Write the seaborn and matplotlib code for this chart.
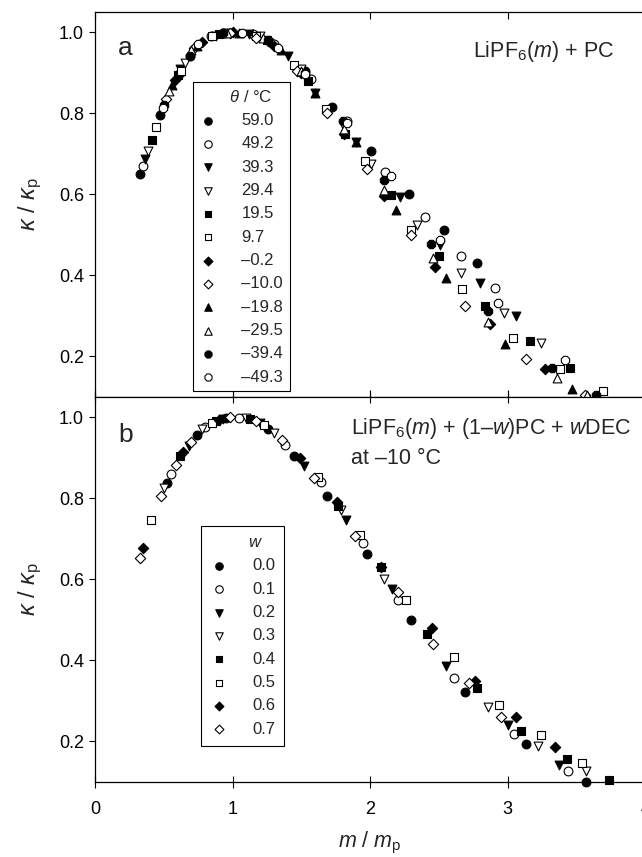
import matplotlib
matplotlib.use("Agg")
import matplotlib.pyplot as plt
import seaborn as sns
import pandas as pd

# ---- panel a: LiPF6 + PC at several temperatures (theta / degC) ----
temps_a = ["59.0", "49.2", "39.3", "29.4", "19.5", "9.7",
           "–0.2", "–10.0", "–19.8", "–29.5", "–39.4", "–49.3"]

x_590 = [0.327, 0.473, 0.69, 0.93, 1.27, 1.53, 1.72, 2.01, 2.28, 2.54, 2.775]
y_590 = [0.649, 0.795, 0.941, 0.998, 0.977, 0.905, 0.815, 0.707, 0.600, 0.513, 0.430]
x_492 = [0.348, 0.62, 0.84, 1.15, 1.30, 1.57, 1.83, 2.108, 2.40, 2.66, 2.91]
y_492 = [0.669, 0.900, 0.990, 0.996, 0.970, 0.885, 0.780, 0.655, 0.544, 0.449, 0.370]
x_393 = [0.366, 0.62, 0.88, 1.12, 1.40, 1.60, 1.90, 2.22, 2.51, 2.80, 3.06]
y_393 = [0.686, 0.910, 0.990, 0.995, 0.940, 0.850, 0.730, 0.593, 0.475, 0.381, 0.300]
x_294 = [0.387, 0.652, 0.95, 1.20, 1.50, 1.80, 2.01, 2.34, 2.66, 2.97, 3.24]
y_294 = [0.707, 0.923, 0.998, 0.990, 0.910, 0.770, 0.676, 0.524, 0.405, 0.307, 0.234]
x_195 = [0.417, 0.60, 0.90, 1.25, 1.55, 1.82, 2.15, 2.50, 2.836, 3.16, 3.45]
y_195 = [0.735, 0.895, 0.995, 0.980, 0.880, 0.750, 0.599, 0.449, 0.325, 0.238, 0.171]
x_97 = [0.443, 0.628, 0.85, 1.17, 1.45, 1.68, 1.96, 2.295, 2.67, 3.04, 3.38, 3.69]
y_97 = [0.765, 0.903, 0.990, 0.990, 0.920, 0.810, 0.682, 0.513, 0.366, 0.246, 0.170, 0.114]
x_m02 = [0.58, 0.78, 1.00, 1.30, 1.50, 1.81, 2.10, 2.47, 2.87, 3.27]
y_m02 = [0.883, 0.975, 1.000, 0.965, 0.900, 0.750, 0.597, 0.420, 0.280, 0.170]
x_m100 = [0.518, 0.72, 0.98, 1.17, 1.47, 1.69, 1.98, 2.295, 2.69, 3.135, 3.56]
y_m100 = [0.836, 0.960, 0.999, 0.985, 0.905, 0.800, 0.663, 0.500, 0.324, 0.193, 0.105]
x_m198 = [0.56, 0.74, 1.05, 1.35, 1.60, 1.90, 2.19, 2.55, 2.98, 3.47]
y_m198 = [0.870, 0.965, 0.998, 0.955, 0.850, 0.729, 0.562, 0.393, 0.231, 0.120]
x_m295 = [0.539, 0.70, 0.96, 1.22, 1.50, 1.81, 2.10, 2.46, 2.86, 3.36, 3.58]
y_m295 = [0.855, 0.955, 0.998, 0.985, 0.905, 0.760, 0.611, 0.442, 0.285, 0.148, 0.105]
x_m394 = [0.50, 0.687, 0.93, 1.26, 1.53, 1.80, 2.10, 2.444, 2.86, 3.32, 3.64]
y_m394 = [0.820, 0.941, 0.997, 0.980, 0.900, 0.780, 0.636, 0.477, 0.312, 0.172, 0.106]
x_m493 = [0.494, 0.75, 1.07, 1.33, 1.527, 1.83, 2.15, 2.51, 2.93, 3.42]
y_m493 = [0.814, 0.970, 0.999, 0.960, 0.898, 0.775, 0.645, 0.487, 0.332, 0.190]

xs_a = [x_590, x_492, x_393, x_294, x_195, x_97, x_m02, x_m100, x_m198, x_m295, x_m394, x_m493]
ys_a = [y_590, y_492, y_393, y_294, y_195, y_97, y_m02, y_m100, y_m198, y_m295, y_m394, y_m493]

# ---- panel b: LiPF6 + (1-w)PC + wDEC at -10 degC ----
fracs_b = ["0.0", "0.1", "0.2", "0.3", "0.4", "0.5", "0.6", "0.7"]

x_w00 = [0.52, 0.738, 0.95, 1.26, 1.447, 1.69, 1.977, 2.30, 2.69, 3.135, 3.566]
y_w00 = [0.838, 0.957, 0.999, 0.970, 0.905, 0.805, 0.663, 0.500, 0.322, 0.193, 0.101]
x_w01 = [0.553, 0.80, 1.05, 1.38, 1.64, 1.95, 2.205, 2.61, 3.045, 3.44]
y_w01 = [0.861, 0.975, 0.998, 0.931, 0.840, 0.690, 0.548, 0.357, 0.219, 0.127]
x_w02 = [0.68, 0.93, 1.20, 1.52, 1.825, 2.158, 2.55, 3.00, 3.37]
y_w02 = [0.930, 0.995, 0.985, 0.880, 0.746, 0.577, 0.385, 0.240, 0.141]
x_w03 = [0.50, 0.78, 1.10, 1.30, 1.79, 2.10, 2.86, 3.22, 3.57]
y_w03 = [0.825, 0.970, 0.997, 0.960, 0.770, 0.602, 0.286, 0.190, 0.127]
x_w04 = [0.62, 0.88, 1.13, 1.77, 2.08, 2.41, 2.78, 3.10, 3.43, 3.74]
y_w04 = [0.905, 0.990, 0.995, 0.780, 0.630, 0.466, 0.333, 0.227, 0.157, 0.106]
x_w05 = [0.41, 0.85, 1.23, 1.62, 1.93, 2.26, 2.61, 2.94, 3.24, 3.54]
y_w05 = [0.746, 0.985, 0.980, 0.852, 0.710, 0.548, 0.408, 0.289, 0.215, 0.147]
x_w06 = [0.348, 0.64, 0.90, 1.49, 1.757, 2.08, 2.45, 2.76, 3.06, 3.343]
y_w06 = [0.677, 0.914, 0.993, 0.900, 0.790, 0.630, 0.481, 0.350, 0.260, 0.186]
x_w07 = [0.327, 0.479, 0.589, 0.70, 0.98, 1.17, 1.357, 1.595, 1.887, 2.20, 2.46, 2.72, 2.955]
y_w07 = [0.652, 0.805, 0.883, 0.939, 1.000, 0.990, 0.943, 0.849, 0.707, 0.570, 0.441, 0.345, 0.260]

xs_b = [x_w00, x_w01, x_w02, x_w03, x_w04, x_w05, x_w06, x_w07]
ys_b = [y_w00, y_w01, y_w02, y_w03, y_w04, y_w05, y_w06, y_w07]

# marker style per series: (marker, filled, size)
styles_a = [("o", True, 40), ("o", False, 40), ("v", True, 40), ("v", False, 40),
            ("s", True, 34), ("s", False, 34), ("D", True, 28), ("D", False, 28),
            ("^", True, 40), ("^", False, 40), ("8", True, 42), ("8", False, 42)]
styles_b = styles_a[:8]

sns.set_theme(style="ticks")
plt.rcParams["font.family"] = ["Liberation Sans", "DejaVu Sans"]
plt.rcParams["mathtext.fontset"] = "custom"
plt.rcParams["mathtext.rm"] = "Liberation Sans"
plt.rcParams["mathtext.it"] = "Liberation Sans:italic"
plt.rcParams["mathtext.bf"] = "Liberation Sans:bold"
plt.rcParams["axes.edgecolor"] = "black"
plt.rcParams["axes.linewidth"] = 0.9
plt.rcParams["xtick.color"] = "black"
plt.rcParams["ytick.color"] = "black"

fig = plt.figure(figsize=(6.42, 8.57), dpi=100)
ax_a = fig.add_axes([0.148, 0.5368, 0.857, 0.4493])
ax_b = fig.add_axes([0.148, 0.0875, 0.857, 0.4493])


def draw_panel(ax, xs, ys, labels, styles):
    for xv, yv, lab, (mk, filled, sz) in zip(xs, ys, labels, styles):
        df = pd.DataFrame({"x": xv, "y": yv})
        sns.scatterplot(data=df, x="x", y="y", ax=ax, marker=mk, s=sz,
                        color="black" if filled else "white",
                        edgecolor="black", linewidth=0.8, label=lab,
                        zorder=3, clip_on=False)
    ax.set_xlim(0, 4.0)
    ax.set_ylim(0.1, 1.05)
    ax.set_xticks([0, 1, 2, 3, 4])
    ax.set_yticks([0.2, 0.4, 0.6, 0.8, 1.0])
    ax.set_yticklabels(["0.2", "0.4", "0.6", "0.8", "1.0"])
    ax.tick_params(axis="y", direction="out", length=4, width=0.8,
                   labelsize=13, pad=4)
    ax.set_ylabel(r"$\kappa$ / $\kappa_\mathrm{p}$", fontsize=17, labelpad=11)
    for sp in ax.spines.values():
        sp.set_visible(True)
        sp.set_linewidth(0.9)


draw_panel(ax_a, xs_a, ys_a, temps_a, styles_a)
draw_panel(ax_b, xs_b, ys_b, fracs_b, styles_b)

ax_a.tick_params(axis="x", direction="in", top=True, bottom=True, length=5,
                 width=0.8, labelbottom=False)
ax_a.set_xlabel("")
ax_b.tick_params(axis="x", direction="inout", top=True, bottom=True, length=9,
                 width=0.8, labelsize=13, pad=9)
ax_b.set_xlabel(r"$m$ / $m_\mathrm{p}$", fontsize=15.5, labelpad=9)

# panel tags and annotations
ax_a.text(0.042, 0.888, "a", transform=ax_a.transAxes, fontsize=19, va="baseline")
ax_a.text(0.944, 0.883, r"LiPF$_6$($m$) + PC", transform=ax_a.transAxes,
          fontsize=15.5, ha="right", va="baseline")
ax_b.text(0.042, 0.883, "b", transform=ax_b.transAxes, fontsize=19, va="baseline")
ax_b.text(0.465, 0.905, r"LiPF$_6$($m$) + (1–$w$)PC + $w$DEC",
          transform=ax_b.transAxes, fontsize=15.5, ha="left", va="baseline")
ax_b.text(0.465, 0.827, "at –10 °C", transform=ax_b.transAxes,
          fontsize=15.5, ha="left", va="baseline")


def boxed_legend(ax, title, anchor, pad):
    leg = ax.legend(title=title, loc="upper left", bbox_to_anchor=anchor,
                    borderaxespad=0, frameon=True, fancybox=False,
                    framealpha=1, edgecolor="black", fontsize=12,
                    title_fontsize=12, labelspacing=0.5, handlelength=1.0,
                    handletextpad=1.5, borderpad=pad, markerscale=0.85)
    leg.get_frame().set_linewidth(0.8)
    return leg


boxed_legend(ax_a, r"    $\theta$ / °C", (0.178, 0.818), 0.4)
boxed_legend(ax_b, r"      $w$", (0.193, 0.665), 0.55)

fig.savefig("out.png", dpi=100)
